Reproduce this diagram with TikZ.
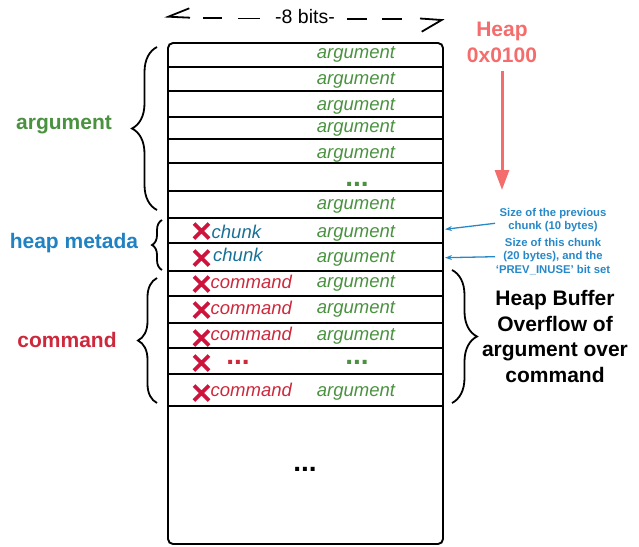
\documentclass[tikz,border=0pt]{standalone}
\usepackage{fontspec}
\setmainfont{Liberation Sans}
\usetikzlibrary{decorations.pathreplacing,arrows.meta}
\definecolor{argc}{RGB}{74,146,64}
\definecolor{chunkc}{RGB}{25,112,150}
\definecolor{metac}{RGB}{32,130,195}
\definecolor{cmdc}{RGB}{205,40,60}
\definecolor{xredc}{RGB}{205,20,60}
\definecolor{heapc}{RGB}{245,108,108}
\definecolor{annc}{RGB}{38,136,200}
\begin{document}
\begin{tikzpicture}[x=1pt,y=-1pt,
  rowline/.style={line width=1.9pt},
  argtxt/.style={text=argc, font=\fontsize{18.5}{22}\selectfont\itshape, inner sep=0pt},
  chunktxt/.style={text=chunkc, font=\fontsize{18.5}{22}\selectfont\itshape, inner sep=0pt, anchor=west},
  cmdtxt/.style={text=cmdc, font=\fontsize{18.5}{22}\selectfont\itshape, inner sep=0pt, anchor=west},
  dotstxt/.style={font=\fontsize{28}{30}\selectfont\bfseries, inner sep=0pt, anchor=base},
  sidelabel/.style={font=\fontsize{21}{25}\selectfont\bfseries, inner sep=0pt},
  bracestyle/.style={line width=1.8pt, decorate},
  anntxt/.style={text=annc, font=\fontsize{11.3}{13.4}\selectfont\bfseries, align=center, inner sep=0pt},
  annarrow/.style={draw=annc, line width=1.3pt, -{Stealth[length=7pt,width=5pt]}},
  dashpart/.style={line width=1.8pt},
  xm/.pic={\draw[line width=3.6pt, xredc] (-7.5,-7.5) -- (7.5,7.5) (-7.5,7.5) -- (7.5,-7.5);}
]
\useasboundingbox (0,0) rectangle (639,546);

% top 8 bits marker
\node[font=\fontsize{19.5}{22}\selectfont, inner sep=0pt] (bits) at (305,17) {-8 bits-};
\coordinate (bl) at (168.3,16.7);
\coordinate (br) at (441.7,20);
\draw[dashpart] (189.3,8.3) -- (bl) -- (190,17.7);
\draw[dashpart] (203.3,18.3) -- (221.7,18.3);
\draw[dashpart] (238,18.5) -- (260,18.5);
\draw[dashpart] (346.7,19) -- (366.7,19);
\draw[dashpart] (381.7,19) -- (401.7,19);
\draw[dashpart] (420,18.5) -- (br) -- (421.7,31.7);

% memory box
\node[draw, rounded corners=5pt, line width=1.9pt, minimum width=275pt, minimum height=501pt, inner sep=0pt] (mem) at (305.5,293.5) {};
\foreach \yy in {67,91,117,139,163,191,218,243,271,296,323,348,374,406}
  \draw[rowline] (mem.west |- 0,\yy) -- (mem.east |- 0,\yy);

% argument rows
\node[argtxt] (a1) at (356,54.5) {argument};
\node[argtxt] (a2) at (356,80.5) {argument};
\node[argtxt] (a3) at (356,106.5) {argument};
\node[argtxt] (a4) at (356,128.5) {argument};
\node[argtxt] (a5) at (356,154.5) {argument};
\node[dotstxt, text=argc] (a6) at (357,186.5) {...};
\node[argtxt] (a7) at (356,205.5) {argument};
\node[argtxt] (a8) at (356,233) {argument};
\node[argtxt] (a9) at (356,258) {argument};
\node[argtxt] (a10) at (356,283) {argument};
\node[argtxt] (a11) at (356,309) {argument};
\node[argtxt] (a12) at (356,336) {argument};
\node[dotstxt, text=argc] (a13) at (357,364) {...};
\node[argtxt] (a14) at (356,392) {argument};

% chunk / command
\node[chunktxt] (c1) at (211.5,232) {chunk};
\node[chunktxt] (c2) at (213,255) {chunk};
\node[cmdtxt] (m1) at (210.5,282) {command};
\node[cmdtxt] (m2) at (210.5,308) {command};
\node[cmdtxt] (m3) at (210.5,334) {command};
\node[dotstxt, text=cmdc] (m4) at (238,364) {...};
\node[cmdtxt] (m5) at (210.5,390) {command};

% X marks
\pic at (201.5,231) {xm};
\pic at (201.5,258) {xm};
\pic at (201.5,284) {xm};
\pic at (201.5,310) {xm};
\pic at (201.5,338) {xm};
\pic at (201.5,363) {xm};
\pic at (201.5,393) {xm};

% bottom dots
\node[dotstxt] (bd) at (305,471.5) {...};

% left labels and braces
\node[sidelabel, text=argc] (largs) at (64,125) {argument};
\node[sidelabel, text=metac] (lmeta) at (74,243) {heap metada};
\node[sidelabel, text=cmdc] (lcmd) at (67,340) {command};
\draw[bracestyle, decoration={brace, amplitude=25pt}] (157,210) -- (157,47);
\draw[bracestyle, decoration={brace, amplitude=10pt}] (162,270) -- (162,220);
\draw[bracestyle, decoration={brace, amplitude=19pt}] (157,403) -- (157,278);
\draw[bracestyle, decoration={brace, amplitude=25pt}] (452,270) -- (452,403);

% right side
\node[font=\fontsize{21}{25.5}\selectfont\bfseries, text=heapc, align=center, inner sep=0pt] (heap) at (502,42.5) {Heap\\0x0100};
\coordinate (heapend) at (502,190);
\draw[heapc, line width=3pt, -{Triangle[length=20pt,width=14pt]}] (heap.south |- 0,71) -- (heapend);

\node[anntxt] (ann1) at (553,220) {Size of the previous\\chunk (10 bytes)};
\node[anntxt] (ann2) at (553,256.5) {Size of this chunk\\(20 bytes), and the\\‘PREV\_INUSE’ bit set};
\coordinate (t1) at (445,229.3);
\coordinate (t2) at (445,257.7);
\draw[annarrow] (495,223.3) -- (t1);
\draw[annarrow] (495,256.7) -- (t2);

\node[font=\fontsize{21}{25.8}\selectfont\bfseries, align=center, inner sep=0pt] (ovf) at (555,336.5) {Heap Buffer\\Overflow of\\argument over\\command};
\end{tikzpicture}
\end{document}
